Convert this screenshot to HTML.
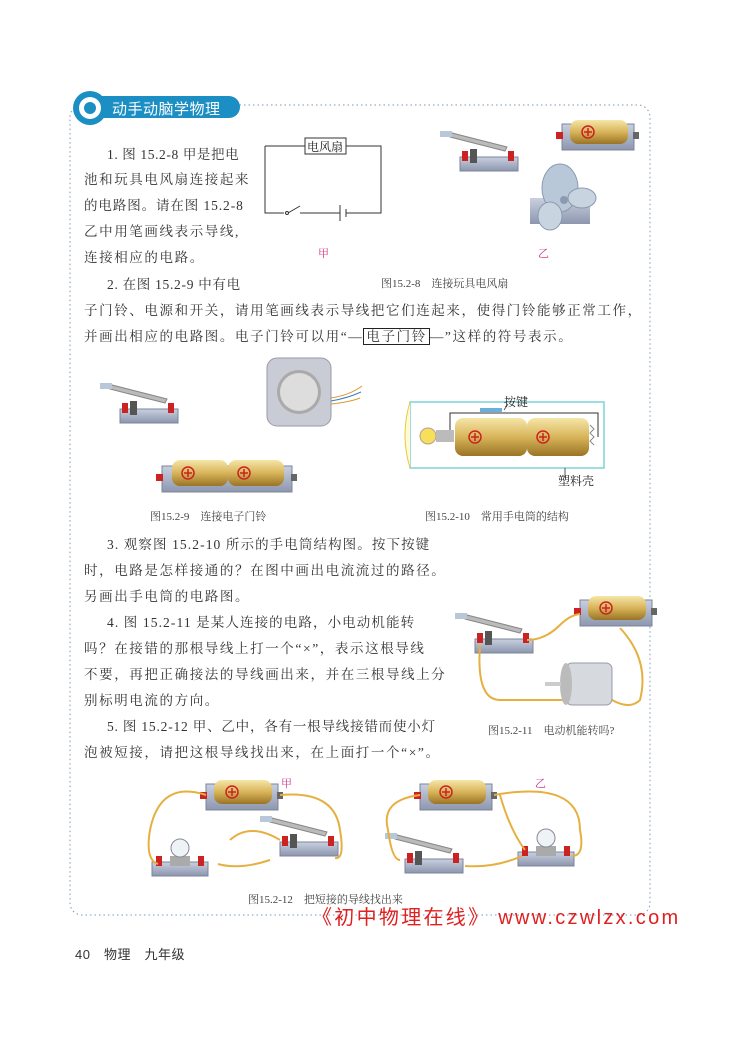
<!DOCTYPE html>
<html><head><meta charset="utf-8"><style>
body{margin:0;width:748px;height:1047px;background:#fff;position:relative;overflow:hidden;font-family:"Liberation Serif","Noto Serif CJK SC","Noto Sans CJK SC",serif;color:#333}
.t{position:absolute;font-size:13.5px;white-space:nowrap;letter-spacing:1.6px}
.n{letter-spacing:1.1px}
.c{position:absolute;font-size:11px;white-space:nowrap;color:#444}
svg{position:absolute;left:0;top:0}
</style></head><body>
<svg width="748" height="1047">
<defs>
<linearGradient id="gold" x1="0" y1="0" x2="0" y2="1"><stop offset="0" stop-color="#f5e6a8"/><stop offset=".5" stop-color="#d8b45a"/><stop offset="1" stop-color="#9a7425"/></linearGradient>
<linearGradient id="base" x1="0" y1="0" x2="0" y2="1"><stop offset="0" stop-color="#c9d0e0"/><stop offset="1" stop-color="#8c96ad"/></linearGradient>
<g id="sw"><rect x="0" y="14" width="58" height="14" fill="url(#base)" stroke="#7b849a"/><rect x="10" y="6" width="7" height="14" fill="#555"/><polygon points="-10,-6 45,8 47,4 -8,-10" fill="#bbb" stroke="#888"/><rect x="-20" y="-12" width="12" height="6" fill="#b8c8d8"/><rect x="2" y="8" width="6" height="10" fill="#c22"/><rect x="48" y="8" width="6" height="10" fill="#c22"/></g>
<g id="bat"><rect x="0" y="4" width="72" height="26" fill="url(#base)" stroke="#7b849a"/><rect x="8" y="0" width="58" height="24" rx="8" fill="url(#gold)"/><circle cx="26" cy="12" r="6" fill="none" stroke="#c22" stroke-width="1.5"/><path d="M22 12h8M26 8v8" stroke="#c22" stroke-width="1.5"/><rect x="-6" y="12" width="7" height="7" fill="#c22"/><rect x="71" y="12" width="6" height="7" fill="#666"/></g>
<g id="bat2"><rect x="0" y="6" width="130" height="26" fill="url(#base)" stroke="#7b849a"/><rect x="10" y="0" width="56" height="26" rx="8" fill="url(#gold)"/><rect x="66" y="0" width="56" height="26" rx="8" fill="url(#gold)"/><circle cx="26" cy="13" r="6" fill="none" stroke="#c22" stroke-width="1.5"/><path d="M22 13h8M26 9v8" stroke="#c22" stroke-width="1.5"/><circle cx="82" cy="13" r="6" fill="none" stroke="#c22" stroke-width="1.5"/><path d="M78 13h8M82 9v8" stroke="#c22" stroke-width="1.5"/><rect x="-6" y="14" width="7" height="7" fill="#c22"/><rect x="129" y="14" width="6" height="7" fill="#666"/></g>
<g id="lamp"><rect x="0" y="14" width="56" height="14" fill="url(#base)" stroke="#7b849a"/><rect x="18" y="8" width="20" height="10" fill="#aaa"/><circle cx="28" cy="0" r="9" fill="#eef3f6" stroke="#889"/><rect x="4" y="8" width="6" height="10" fill="#c22"/><rect x="46" y="8" width="6" height="10" fill="#c22"/></g>
</defs>
<rect x="70" y="105" width="580" height="810" rx="12" fill="none" stroke="#7a9ab5" stroke-width="1" stroke-dasharray="1.5,3"/>
<rect x="74" y="96" width="166" height="22" rx="11" fill="#1b8ec4"/>
<circle cx="90" cy="108" r="17" fill="#1b8ec4"/><circle cx="90" cy="108" r="11" fill="#fff"/><circle cx="90" cy="108" r="6" fill="#1b8ec4"/>
<path d="M265 146H305M346 146H381V213H346M340 213H300" fill="none" stroke="#333"/>
<path d="M284 213H265V146" fill="none" stroke="#333"/>
<path d="M288 213L300 206" stroke="#333"/><circle cx="287" cy="213" r="1.5" fill="#fff" stroke="#333"/>
<path d="M340 205v16M346 209v8" stroke="#333"/>
<rect x="305" y="138" width="41" height="16" fill="#fff" stroke="#333"/>
<use href="#sw" x="460" y="143"/><use href="#bat" x="562" y="120"/>
<g transform="translate(540,180)"><rect x="-10" y="18" width="60" height="26" fill="url(#base)"/><ellipse cx="20" cy="8" rx="18" ry="24" fill="#b9c8d8" stroke="#8a9ab0"/><ellipse cx="42" cy="18" rx="14" ry="10" fill="#c8d4e0" stroke="#8a9ab0"/><ellipse cx="10" cy="36" rx="12" ry="14" fill="#c8d4e0" stroke="#8a9ab0"/><circle cx="24" cy="20" r="4" fill="#8a9ab0"/></g>
<use href="#sw" x="120" y="395"/>
<rect x="267" y="358" width="64" height="68" rx="10" fill="#c9ccd4" stroke="#99a"/><circle cx="299" cy="392" r="22" fill="#aaa"/><circle cx="299" cy="392" r="19" fill="#ddd"/>
<path d="M331 398Q350 395 362 386M331 404Q350 402 360 398" stroke="#d99a30" fill="none"/><path d="M331 401Q348 398 361 392" stroke="#3b7fc0" fill="none"/>
<use href="#bat2" x="162" y="460"/>
<path d="M410 402h194v66H410z" fill="#fff" stroke="#7fd4d8" stroke-width="1.5"/>
<path d="M410 402Q400 435 410 468" fill="#fffbd0" stroke="#e8c84a"/>
<rect x="455" y="418" width="72" height="38" rx="8" fill="url(#gold)"/><rect x="527" y="418" width="62" height="38" rx="8" fill="url(#gold)"/>
<circle cx="475" cy="437" r="6" fill="none" stroke="#c22" stroke-width="1.5"/><path d="M471 437h8M475 433v8" stroke="#c22" stroke-width="1.5"/>
<circle cx="543" cy="437" r="6" fill="none" stroke="#c22" stroke-width="1.5"/><path d="M539 437h8M543 433v8" stroke="#c22" stroke-width="1.5"/>
<circle cx="428" cy="436" r="8" fill="#f6e05a" stroke="#b99"/><rect x="436" y="430" width="18" height="12" fill="#bbb"/>
<path d="M590 425l4 4-4 4 4 4-4 4 4 4" stroke="#888" fill="none"/>
<path d="M450 430V413H598V437" fill="none" stroke="#333"/><path d="M480 410h22" stroke="#6ab0d8" stroke-width="4"/>
<path d="M504 410L508 404M565 468v10" stroke="#555"/>
<use href="#sw" x="475" y="625"/><use href="#bat" x="580" y="596"/>
<path d="M527 640Q545 640 560 625Q570 615 580 614" stroke="#e6b040" stroke-width="2" fill="none"/>
<path d="M480 645Q476 700 500 700L570 700" stroke="#e6b040" stroke-width="2" fill="none"/>
<path d="M620 628Q650 660 640 700Q630 710 612 700" stroke="#e6b040" stroke-width="2" fill="none"/>
<rect x="566" y="663" width="46" height="42" rx="6" fill="#d6d9de" stroke="#99a"/><ellipse cx="566" cy="684" rx="6" ry="21" fill="#bbb"/><rect x="545" y="682" width="16" height="4" fill="#ccc"/>
<use href="#bat" x="206" y="780"/><use href="#lamp" x="152" y="848"/><use href="#sw" x="280" y="828"/>
<path d="M206 795Q160 780 150 830Q145 860 158 864M280 795Q335 790 340 830Q345 860 335 858M218 864Q240 870 270 860M230 840Q250 822 280 840" stroke="#e6b040" stroke-width="2" fill="none"/>
<use href="#bat" x="420" y="780"/><use href="#sw" x="405" y="845"/><use href="#lamp" x="518" y="838"/>
<path d="M420 795Q380 800 388 830Q392 860 400 860M494 795Q580 780 580 830Q585 856 572 856M465 866Q495 868 522 856M500 795Q510 830 525 850" stroke="#e6b040" stroke-width="2" fill="none"/>
</svg>
<div class="t" style="left:112px;top:98px;color:#fff;font-family:'Liberation Sans','Noto Sans CJK SC',sans-serif;font-size:15px;letter-spacing:0.5px">动手动脑学物理</div>
<div class="c" style="left:307px;top:138px;font-size:12px;color:#222">电风扇</div>
<div class="c" style="left:318px;top:245px;color:#d4358a">甲</div>
<div class="c" style="left:538px;top:245px;color:#d4358a">乙</div>
<div class="c" style="left:381px;top:275px">图15.2-8　连接玩具电风扇</div>
<div class="t n" style="left:107px;top:143px;letter-spacing:0.6px">1. 图 15.2-8 甲是把电</div>
<div class="t" style="left:84px;top:168px">池和玩具电风扇连接起来</div>
<div class="t n" style="left:84px;top:194px;letter-spacing:0.9px">的电路图。请在图 15.2-8</div>
<div class="t" style="left:84px;top:220px">乙中用笔画线表示导线,</div>
<div class="t" style="left:84px;top:246px">连接相应的电路。</div>
<div class="t n" style="left:107px;top:273px;letter-spacing:0.7px">2. 在图 15.2-9 中有电</div>
<div class="t" style="left:84px;top:299px;letter-spacing:1.6px">子门铃、电源和开关，请用笔画线表示导线把它们连起来，使得门铃能够正常工作，</div>
<div class="t" style="left:84px;top:325px">并画出相应的电路图。电子门铃可以用“—<span style="border:1px solid #222;padding:0 2px">电子门铃</span>—”这样的符号表示。</div>
<div class="c" style="left:504px;top:393px;font-size:12px;color:#222">按键</div>
<div class="c" style="left:558px;top:472px;font-size:12px;color:#222">塑料壳</div>
<div class="c" style="left:150px;top:508px">图15.2-9　连接电子门铃</div>
<div class="c" style="left:425px;top:508px">图15.2-10　常用手电筒的结构</div>
<div class="t n" style="left:107px;top:533px">3. 观察图 15.2-10 所示的手电筒结构图。按下按键</div>
<div class="t" style="left:84px;top:559px">时，电路是怎样接通的？在图中画出电流流过的路径。</div>
<div class="t" style="left:84px;top:585px">另画出手电筒的电路图。</div>
<div class="t n" style="left:107px;top:611px">4. 图 15.2-11 是某人连接的电路，小电动机能转</div>
<div class="t" style="left:84px;top:637px">吗？在接错的那根导线上打一个“×”，表示这根导线</div>
<div class="t" style="left:84px;top:663px">不要，再把正确接法的导线画出来，并在三根导线上分</div>
<div class="t" style="left:84px;top:689px">别标明电流的方向。</div>
<div class="t n" style="left:107px;top:715px;letter-spacing:0.8px">5. 图 15.2-12 甲、乙中，各有一根导线接错而使小灯</div>
<div class="t" style="left:84px;top:741px">泡被短接，请把这根导线找出来，在上面打一个“×”。</div>
<div class="c" style="left:488px;top:722px">图15.2-11　电动机能转吗?</div>
<div class="c" style="left:281px;top:775px;color:#d4358a">甲</div>
<div class="c" style="left:535px;top:775px;color:#d4358a">乙</div>
<div class="c" style="left:248px;top:891px">图15.2-12　把短接的导线找出来</div>
<div class="t" style="left:312px;top:901px;font-size:20px;color:#e02020;letter-spacing:2.3px;font-family:'Liberation Sans','Noto Sans CJK SC',sans-serif">《初中物理在线》 www.czwlzx.com</div>
<div class="t" style="left:75px;top:944px;font-size:13px;letter-spacing:0.5px;font-family:'Liberation Sans','Noto Sans CJK SC',sans-serif">40　物理　九年级</div>
</body></html>
